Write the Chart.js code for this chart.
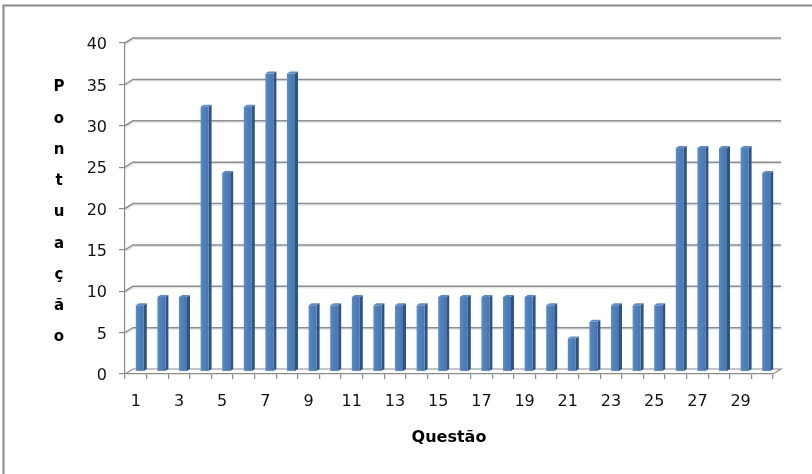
<!DOCTYPE html>
<html lang="pt">
<head>
<meta charset="utf-8">
<title>Pontuação por questão</title>
<script src="https://cdn.jsdelivr.net/npm/chart.js@4.4.1/dist/chart.umd.min.js"></script>
<style>
  html, body { margin: 0; padding: 0; background: #fff; }
  #wrap { width: 812px; height: 474px; }
</style>
</head>
<body>
<div id="wrap"><canvas id="chart" width="812" height="474"></canvas></div>
<script>
// Questions 1..30
const categories = ['1','2','3','4','5','6','7','8','9','10','11','12','13','14','15',
                    '16','17','18','19','20','21','22','23','24','25','26','27','28','29','30'];
// Score per question
const scores = [8, 9, 9, 32, 24, 32, 36, 36, 8, 8, 9, 8, 8, 8, 9,
                9, 9, 9, 9, 8, 4, 6, 8, 8, 8, 27, 27, 27, 27, 24];
// Value axis
const yMin = 0;
const yMax = 40;
const yStep = 5;
const yTitle = 'Pontuação';
const xTitle = 'Questão';

const FONT = 'DejaVu Sans';
const GRID = '#8c8c8c';
const DEPTH_X = 8, DEPTH_Y = -5;   // floor / wall depth
const BAR_DX = 3, BAR_DY = -2;     // depth of a single column

// Draws the 3-D wall, floor and shaded columns
const excel3d = {
  id: 'excel3d',
  beforeDatasetsDraw(chart) {
    const { ctx, chartArea: a, scales: { y } } = chart;
    ctx.save();
    ctx.lineCap = 'butt';
    // back-wall gridlines with their diagonal connectors
    for (let v = yMin + yStep; v <= yMax; v += yStep) {
      const py = y.getPixelForValue(v);
      ctx.strokeStyle = '#dcdcdc';
      ctx.lineWidth = 1;
      ctx.beginPath();
      ctx.moveTo(a.left + 1, py + 1.5);
      ctx.lineTo(a.left + DEPTH_X + 1, py + DEPTH_Y + 1.5);
      ctx.lineTo(a.right + DEPTH_X + 1, py + DEPTH_Y + 1.5);
      ctx.stroke();
      ctx.strokeStyle = GRID;
      ctx.lineWidth = 1.5;
      ctx.beginPath();
      ctx.moveTo(a.left, py);
      ctx.lineTo(a.left + DEPTH_X, py + DEPTH_Y);
      ctx.lineTo(a.right + DEPTH_X, py + DEPTH_Y);
      ctx.stroke();
    }
    // floor
    const b = y.getPixelForValue(yMin);
    ctx.strokeStyle = GRID;
    ctx.lineWidth = 1.2;
    ctx.beginPath();
    ctx.moveTo(a.left, b);
    ctx.lineTo(a.left + DEPTH_X, b + DEPTH_Y);
    ctx.lineTo(a.right + DEPTH_X, b + DEPTH_Y);
    ctx.lineTo(a.right, b);
    ctx.stroke();
    ctx.restore();
  },
  afterDatasetsDraw(chart) {
    const { ctx } = chart;
    const meta = chart.getDatasetMeta(0);
    ctx.save();
    meta.data.forEach((el) => {
      const p = el.getProps(['x', 'y', 'base', 'width'], true);
      const x0 = p.x - p.width / 2 + DEPTH_X / 2;
      const x1 = p.x + p.width / 2 + DEPTH_X / 2;
      const top = p.y + DEPTH_Y / 2;
      const bot = p.base + DEPTH_Y / 2;
      // side face
      ctx.fillStyle = '#2f5484';
      ctx.beginPath();
      ctx.moveTo(x1, bot);
      ctx.lineTo(x1 + BAR_DX, bot + BAR_DY);
      ctx.lineTo(x1 + BAR_DX, top + BAR_DY);
      ctx.lineTo(x1, top);
      ctx.closePath();
      ctx.fill();
      // top face
      ctx.fillStyle = '#5a8bc7';
      ctx.beginPath();
      ctx.moveTo(x0, top);
      ctx.lineTo(x1, top);
      ctx.lineTo(x1 + BAR_DX, top + BAR_DY);
      ctx.lineTo(x0 + BAR_DX, top + BAR_DY);
      ctx.closePath();
      ctx.fill();
      // front face
      const g = ctx.createLinearGradient(x0, 0, x1, 0);
      g.addColorStop(0, '#5c8dca');
      g.addColorStop(0.35, '#4f81bd');
      g.addColorStop(1, '#4677b3');
      ctx.fillStyle = g;
      ctx.fillRect(x0, top, x1 - x0, bot - top);
    });
    ctx.restore();
  },
  afterDraw(chart) {
    const { ctx, chartArea: a } = chart;
    ctx.save();
    // frame on top and left
    ctx.strokeStyle = '#8a8a8a';
    ctx.lineWidth = 2;
    ctx.beginPath();
    ctx.moveTo(3.5, chart.height);
    ctx.lineTo(3.5, 5.5);
    ctx.lineTo(chart.width, 5.5);
    ctx.stroke();
    // stacked value-axis title
    ctx.fillStyle = '#000';
    ctx.font = 'bold 15px "' + FONT + '"';
    ctx.textAlign = 'center';
    ctx.textBaseline = 'middle';
    const letters = Array.from(yTitle);
    const gap = 31.25;
    const mid = (a.top + a.bottom) / 2 + 4;
    letters.forEach((ch, i) => {
      ctx.fillText(ch, 59, mid + (i - (letters.length - 1) / 2) * gap);
    });
    ctx.restore();
  }
};

new Chart(document.getElementById('chart'), {
  type: 'bar',
  data: {
    labels: categories,
    datasets: [{
      data: scores,
      backgroundColor: 'rgba(0,0,0,0)',
      borderWidth: 0,
      barPercentage: 0.37,
      categoryPercentage: 1
    }]
  },
  options: {
    responsive: false,
    animation: false,
    devicePixelRatio: 1,
    layout: { padding: { top: 43, right: 39, left: 0, bottom: 0 } },
    plugins: { legend: { display: false }, tooltip: { enabled: false } },
    scales: {
      x: {
        offset: true,
        afterFit(s) { s.height = 100; },
        grid: { offset: true, drawOnChartArea: false, drawTicks: true, tickLength: 5, color: GRID, lineWidth: 1.2 },
        border: { display: true, color: GRID, width: 1.2 },
        ticks: {
          autoSkip: false, maxRotation: 0, padding: 13, color: '#111',
          font: { family: FONT, size: 16 },
          callback(value, index) { return index % 2 === 0 ? categories[index] : ''; }
        },
        title: { display: true, text: xTitle, color: '#000',
                 font: { family: FONT, size: 16, weight: 'bold' },
                 padding: { top: 0, bottom: 27 } }
      },
      y: {
        min: yMin, max: yMax,
        afterFit(s) { s.width = 125; },
        grid: { drawOnChartArea: false, drawTicks: true, tickLength: 6, color: GRID, lineWidth: 1.2 },
        border: { display: true, color: GRID, width: 1.2 },
        ticks: { stepSize: yStep, padding: 12, labelOffset: 2, color: '#111', font: { family: FONT, size: 16 } }
      }
    }
  },
  plugins: [excel3d]
});
</script>
</body>
</html>
